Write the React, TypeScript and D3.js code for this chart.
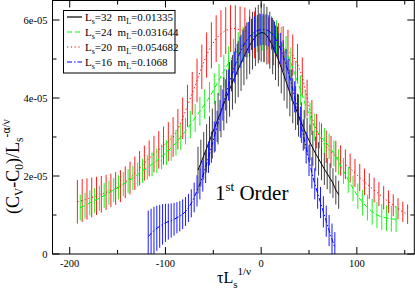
import * as d3 from "d3";

const W = 415;
const H = 291;
const plot = { left: 52.5, right: 414.3, top: 0.5, bottom: 254 };

const UNIT = 1e-5;
const xDomain = [-218, 160];
const yDomain = [0, 6.5e-5];
const xMajor = [-200, -100, 0, 100];
const xMinor = [-150, -50, 50, 150];
const yMajor = [0, 2e-5, 4e-5, 6e-5];
const yMinor = [1e-5, 3e-5, 5e-5];
const yTickText = ["0", "2e-05", "4e-05", "6e-05"];

// Ls=32 (values in units of 1e-5)
const start32 = -66, step32 = 3;
const cv32 = [
  2.15, 2.33, 2.52, 2.71, 2.9, 3.09, 3.28, 3.47, 3.66, 3.85,
  4.04, 4.22, 4.4, 4.57, 4.74, 4.9, 5.06, 5.21, 5.35, 5.47,
  5.57, 5.64, 5.68, 5.67, 5.6, 5.48, 5.33, 5.16, 4.98, 4.78,
  4.57, 4.35, 4.13, 3.93, 3.74, 3.55, 3.37, 3.19, 3.02, 2.86,
  2.71, 2.57, 2.44, 2.31, 2.18, 2.06, 1.94, 1.82, 1.64, 1.52,
];
const err32 = [
  0.6, 0.6, 0.61, 0.62, 0.63, 0.64, 0.65, 0.66, 0.67, 0.68,
  0.69, 0.7, 0.7, 0.71, 0.72, 0.72, 0.73, 0.73, 0.74, 0.74,
  0.75, 0.75, 0.75, 0.75, 0.74, 0.73, 0.72, 0.7, 0.68, 0.66,
  0.64, 0.62, 0.6, 0.58, 0.56, 0.54, 0.52, 0.5, 0.48, 0.46,
  0.45, 0.44, 0.43, 0.42, 0.41, 0.4, 0.39, 0.38, 0.37, 0.36,
];

// Ls=24
const start24 = -189, step24 = 5;
const cv24 = [
  1.19, 1.24, 1.31, 1.37, 1.43, 1.5, 1.57, 1.64, 1.71, 1.79,
  1.87, 1.95, 2.04, 2.13, 2.22, 2.3, 2.39, 2.49, 2.6, 2.72,
  2.85, 3.0, 3.15, 3.32, 3.49, 3.66, 3.84, 4.02, 4.24, 4.46,
  4.69, 4.9, 5.08, 5.24, 5.38, 5.49, 5.57, 5.63, 5.66, 5.68,
  5.66, 5.56, 5.4, 5.18, 4.9, 4.56, 4.2, 3.85, 3.52, 3.25,
  3.05, 2.9, 2.76, 2.58, 2.36, 2.13, 1.9, 1.68, 1.48, 1.32,
  1.19, 1.08, 1.0, 0.95, 0.92, 0.9, 0.89,
];
const err24 = [
  0.33, 0.33, 0.32, 0.32, 0.32, 0.32, 0.31, 0.31, 0.31, 0.31,
  0.31, 0.31, 0.31, 0.31, 0.31, 0.31, 0.32, 0.32, 0.32, 0.33,
  0.33, 0.34, 0.34, 0.35, 0.36, 0.37, 0.38, 0.39, 0.4, 0.41,
  0.42, 0.43, 0.44, 0.45, 0.45, 0.45, 0.45, 0.45, 0.45, 0.45,
  0.44, 0.43, 0.42, 0.41, 0.4, 0.39, 0.38, 0.37, 0.36, 0.35,
  0.34, 0.33, 0.33, 0.33, 0.33, 0.33, 0.33, 0.33, 0.33, 0.33,
  0.33, 0.33, 0.33, 0.33, 0.33, 0.33, 0.33,
];

// Ls=20
const start20 = -192, step20 = 5;
const cv20 = [
  1.34, 1.37, 1.41, 1.45, 1.49, 1.53, 1.58, 1.63, 1.68, 1.74,
  1.84, 1.95, 2.07, 2.2, 2.33, 2.45, 2.56, 2.67, 2.78, 2.88,
  3.0, 3.2, 3.48, 3.8, 4.12, 4.45, 4.8, 5.1, 5.35, 5.52,
  5.65, 5.73, 5.78, 5.78, 5.75, 5.72, 5.67, 5.62, 5.57, 5.52,
  5.47, 5.42, 5.35, 5.28, 5.2, 5.1, 4.88, 4.55, 4.0, 3.5,
  3.15, 2.92, 2.75, 2.62, 2.5, 2.4, 2.3, 2.2, 2.08, 1.96,
  1.85, 1.74, 1.64, 1.54, 1.44, 1.34, 1.25, 1.16, 1.08, 1.02,
];
const err20 = [
  0.56, 0.55, 0.53, 0.51, 0.49, 0.47, 0.45, 0.43, 0.42, 0.41,
  0.41, 0.42, 0.43, 0.44, 0.45, 0.46, 0.47, 0.48, 0.49, 0.5,
  0.51, 0.52, 0.53, 0.54, 0.55, 0.56, 0.57, 0.58, 0.59, 0.6,
  0.6, 0.6, 0.6, 0.6, 0.6, 0.6, 0.6, 0.6, 0.6, 0.6,
  0.59, 0.58, 0.57, 0.56, 0.55, 0.53, 0.51, 0.49, 0.47, 0.45,
  0.44, 0.43, 0.42, 0.41, 0.4, 0.39, 0.38, 0.37, 0.36, 0.35,
  0.34, 0.33, 0.32, 0.31, 0.3, 0.29, 0.28, 0.27, 0.26, 0.25,
];

// Ls=16
const start16 = -118, step16 = 3;
const cv16 = [
  0.45, 0.52, 0.6, 0.66, 0.71, 0.76, 0.8, 0.83, 0.86, 0.89,
  0.93, 0.97, 1.02, 1.09, 1.18, 1.3, 1.45, 1.62, 1.8, 2.0,
  2.22, 2.48, 2.74, 3.0, 3.27, 3.55, 3.82, 4.08, 4.33, 4.57,
  4.79, 4.99, 5.17, 5.32, 5.45, 5.55, 5.63, 5.69, 5.73, 5.75,
  5.76, 5.75, 5.72, 5.66, 5.56, 5.43, 5.27, 5.08, 4.86, 4.61,
  4.33, 4.03, 3.71, 3.38, 3.05, 2.72, 2.4, 2.08, 1.8, 1.56,
  1.32, 1.08, 0.84, 0.6, 0.38, 0.16,
];
const err16 = [
  0.66, 0.64, 0.61, 0.58, 0.55, 0.52, 0.49, 0.46, 0.44, 0.42,
  0.4, 0.39, 0.38, 0.37, 0.36, 0.36, 0.38, 0.4, 0.4, 0.4,
  0.4, 0.4, 0.4, 0.4, 0.4, 0.4, 0.4, 0.4, 0.4, 0.4,
  0.4, 0.4, 0.4, 0.4, 0.4, 0.4, 0.4, 0.4, 0.4, 0.4,
  0.4, 0.4, 0.4, 0.4, 0.4, 0.4, 0.4, 0.4, 0.4, 0.4,
  0.4, 0.4, 0.4, 0.4, 0.4, 0.4, 0.4, 0.4, 0.4, 0.4,
  0.4, 0.4, 0.4, 0.4, 0.4, 0.4,
];

const series = [
  { ls: "20", ml: "0.054682", color: "#ff0000", bar: "#ff2020", dash: "1.2,2.6", start: start20, step: step20, cv: cv20, err: err20 },
  { ls: "24", ml: "0.031644", color: "#00ff00", bar: "#20f020", dash: "5,3", start: start24, step: step24, cv: cv24, err: err24 },
  { ls: "32", ml: "0.01335", color: "#000000", bar: "#404040", dash: "", start: start32, step: step32, cv: cv32, err: err32 },
  { ls: "16", ml: "0.1068", color: "#0000ff", bar: "#1a1aff", dash: "5,2,1.5,2", start: start16, step: step16, cv: cv16, err: err16 },
];
const legendOrder = ["32", "24", "20", "16"];

const serif = "'Liberation Serif', 'DejaVu Serif', serif";

export default function App() {
  const x = d3.scaleLinear().domain(xDomain).range([plot.left, plot.right]);
  const y = d3.scaleLinear().domain(yDomain).range([plot.bottom, plot.top]);

  const line = d3
    .line<{ t: number; v: number }>()
    .x((d) => x(d.t))
    .y((d) => y(d.v));

  return (
    <svg width={W} height={H} style={{ position: "absolute", left: 0, top: 0 }} fontFamily={serif}>
      <defs>
        <clipPath id="plotclip">
          <rect x={plot.left} y={plot.top} width={plot.right - plot.left} height={plot.bottom - plot.top} />
        </clipPath>
      </defs>
      <rect width={W} height={H} fill="#fff" />

      <g clipPath="url(#plotclip)">
        {series.map((s) => {
          const pts = s.cv.map((v, i) => ({ t: s.start + i * s.step, v: v * UNIT, e: s.err[i] * UNIT }));
          return (
            <g key={s.ls}>
              {pts.map((p, i) => (
                <line key={i} x1={x(p.t)} x2={x(p.t)} y1={y(p.v - p.e)} y2={y(p.v + p.e)} stroke={s.bar} strokeWidth={1} />
              ))}
              <path d={line(pts) || ""} fill="none" stroke={s.color} strokeWidth={1} strokeDasharray={s.dash || undefined} />
            </g>
          );
        })}
      </g>

      {/* frame */}
      <rect x={plot.left} y={plot.top} width={plot.right - plot.left} height={plot.bottom - plot.top} fill="none" stroke="#000" strokeWidth={1} />

      {/* ticks */}
      {xMajor.map((t) => (
        <g key={"xM" + t}>
          <line x1={x(t)} x2={x(t)} y1={plot.bottom} y2={plot.bottom - 7} stroke="#000" />
          <line x1={x(t)} x2={x(t)} y1={plot.top} y2={plot.top + 7} stroke="#000" />
          <text x={x(t)} y={plot.bottom + 13} fontSize={10.5} textAnchor="middle">{t}</text>
        </g>
      ))}
      {xMinor.map((t) => (
        <g key={"xm" + t}>
          <line x1={x(t)} x2={x(t)} y1={plot.bottom} y2={plot.bottom - 4} stroke="#000" />
          <line x1={x(t)} x2={x(t)} y1={plot.top} y2={plot.top + 4} stroke="#000" />
        </g>
      ))}
      {yMajor.map((t, i) => (
        <g key={"yM" + t}>
          <line x1={plot.left} x2={plot.left + 7} y1={y(t)} y2={y(t)} stroke="#000" />
          <line x1={plot.right} x2={plot.right - 7} y1={y(t)} y2={y(t)} stroke="#000" />
          <text x={plot.left - 5} y={y(t) + 3.5} fontSize={10.5} textAnchor="end">{yTickText[i]}</text>
        </g>
      ))}
      {yMinor.map((t) => (
        <g key={"ym" + t}>
          <line x1={plot.left} x2={plot.left + 4} y1={y(t)} y2={y(t)} stroke="#000" />
          <line x1={plot.right} x2={plot.right - 4} y1={y(t)} y2={y(t)} stroke="#000" />
        </g>
      ))}

      {/* axis labels */}
      <text x={217} y={283} fontSize={16}>
        τL<tspan fontSize={11} dy={5}>s</tspan>
        <tspan fontSize={11} dy={-13}>1/ν</tspan>
      </text>
      <text transform="translate(19,214) rotate(-90)" fontSize={18}>
        (C<tspan fontSize={11.5} dy={4}>V</tspan>
        <tspan dy={-4}>-C</tspan>
        <tspan fontSize={11.5} dy={4}>0</tspan>
        <tspan dy={-4}>)/L</tspan>
        <tspan fontSize={11.5} dy={4}>s</tspan>
        <tspan fontSize={11.5} dy={-13}>-α/ν</tspan>
      </text>

      {/* annotation */}
      <text x={215} y={200} fontSize={21}>
        1<tspan fontSize={13} dy={-9}>st</tspan>
        <tspan dy={9}> Order</tspan>
      </text>

      {/* legend */}
      <rect x={63.5} y={10.5} width={111.5} height={62.5} fill="#fff" stroke="#000" strokeWidth={1} />
      {legendOrder.map((ls, i) => {
        const s = series.find((d) => d.ls === ls)!;
        const cy = 17 + i * 15;
        return (
          <g key={"lg" + ls}>
            <line x1={67} x2={82} y1={cy} y2={cy} stroke={s.color} strokeWidth={1.2} strokeDasharray={s.dash || undefined} />
            <text x={85} y={cy + 4} fontSize={11}>
              L<tspan fontSize={8} dy={3}>s</tspan>
              <tspan dy={-3}>={s.ls}{"\u00a0\u00a0"}m</tspan>
              <tspan fontSize={8} dy={3}>L</tspan>
              <tspan dy={-3}>={s.ml}</tspan>
            </text>
          </g>
        );
      })}
    </svg>
  );
}
